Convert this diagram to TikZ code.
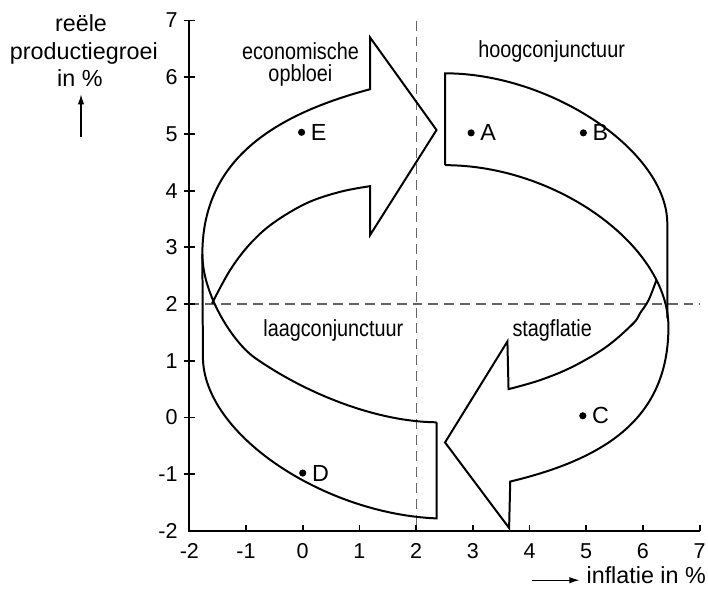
\documentclass[tikz,border=0pt]{standalone}
\usepackage{fontspec}
\setmainfont{Liberation Sans}
\newfontfamily\condfont[FakeStretch=0.85]{Liberation Sans}
\usetikzlibrary{arrows.meta}
\begin{document}
\begin{tikzpicture}[x=1cm,y=1cm,
  band/.style={line width=1pt, line join=miter},
  axisline/.style={line width=0.9pt},
  guide/.style={draw=black!60, dash pattern=on 5pt off 3pt, line width=0.6pt},
  ticklbl/.style={font=\fontsize{10.8}{12}\selectfont, inner sep=0pt},
  lbl/.style={font=\fontsize{11.7}{13.5}\selectfont, inner sep=0pt},
  condlbl/.style={font=\condfont\fontsize{11.7}{13.5}\selectfont, inner sep=0pt, anchor=base},
  ptdot/.style={circle, fill=black, inner sep=0pt, minimum size=3.6pt},
  axarrow/.style={-{Latex[length=5pt,width=3.2pt]}, line width=0.6pt}
]
\useasboundingbox (-5.339,-3.042) rectangle (7.148,7.363);

% guide lines
\draw[guide] (2,7) -- (2,-2);
\draw[guide] (-2,2) -- (7,2);

% axes
\draw[axisline] (-2,7) -- (-2,-2) -- (7,-2);
\foreach \y in {-1,...,7} \draw[axisline] (-2.1,\y) -- (-1.9,\y);
\foreach \x in {-1,...,7} \draw[axisline] (\x,-2) -- (\x,-1.9);
\foreach \y in {-2,...,7} \node[ticklbl, anchor=base east] (yl\y) at (-2.2,\y-0.13) {\y};
\foreach \x in {-2,...,7} \node[ticklbl, anchor=base] (xl\x) at (\x,-2.48) {\x};

% axis titles
\node[lbl, anchor=base] (yt1) at (-3.91,6.80) {reële};
\node[lbl, anchor=base] (yt2) at (-3.86,6.31) {productiegroei};
\node[lbl, anchor=base] (yt3) at (-3.93,5.83) {in \%};
\coordinate (ya0) at (-3.91,4.95);
\coordinate (ya1) at (-3.91,5.70);
\draw[axarrow] (ya0) -- (ya1);
\node[lbl, anchor=base west] (xt) at (5.0,-2.92) {inflatie in \%};
\coordinate (xa0) at (4.04,-2.87);
\coordinate (xa1) at (4.88,-2.87);
\draw[axarrow] (xa0) -- (xa1);

% key points of the ribbon
\coordinate (L) at (-1.77,2.88);     % leftmost point
\coordinate (R) at (6.45,1.60);      % rightmost point
\coordinate (ub) at (1.19,5.79);     % upper arrow, outer base
\coordinate (ut) at (1.19,6.70);     % upper arrow, top barb
\coordinate (utip) at (2.36,5.07);   % upper arrow tip
\coordinate (ul) at (1.19,3.22);     % upper arrow, lower barb
\coordinate (ui) at (1.19,4.08);     % upper arrow, inner base
\coordinate (X1) at (-1.60,2.01);    % where upper inner edge meets lower band
\coordinate (lt) at (2.36,-0.085);   % lower band end, top
\coordinate (lb) at (2.36,-1.78);    % lower band end, bottom
\coordinate (lv) at (-1.76,1.07);    % bottom of left vertical
\coordinate (ht) at (2.51,6.07);     % hoog band end, top
\coordinate (hb) at (2.51,4.45);     % hoog band end, bottom
\coordinate (rv) at (6.43,3.42);     % top of right vertical
\coordinate (sb) at (3.66,-1.13);    % stag arrow, outer base
\coordinate (sl) at (3.64,-1.95);    % stag arrow, lower barb
\coordinate (stip) at (2.51,-0.44);  % stag arrow tip
\coordinate (st) at (3.61,1.34);     % stag arrow, top barb
\coordinate (si) at (3.63,0.50);     % stag arrow, inner base
\coordinate (X2) at (6.24,2.43);     % where stag inner edge meets hoog band

% upper-left arrow (economische opbloei); its outer edge continues as top edge of lower band
\draw[band] (lt) .. controls (1.30,-0.075) and (0.06,0.42) .. (-0.84,1.05)
  .. controls (-1.24,1.33) and (-1.77,2.18) .. (L)
  .. controls (-1.77,4.48) and (-0.61,5.31) .. (ub)
  -- (ut) -- (utip) -- (ul) -- (ui)
  -- plot[smooth, tension=0.6] coordinates {(1.19,4.08) (0.66,3.98) (0.07,3.78) (-0.52,3.43) (-0.93,3.06) (-1.28,2.60) (-1.60,2.01)};

% lower band (laagconjunctuur)
\draw[band] (lt) -- (lb) .. controls (0.38,-1.70) and (-1.76,-0.30) .. (lv) -- (L);

% upper-right band (hoogconjunctuur)
\draw[band] (hb) -- (ht) .. controls (4.39,6.07) and (6.43,4.69) .. (rv) -- (6.43,1.75);

% inner edge of hoog band continuing as outer edge of stagflatie arrow
\draw[band] (hb) .. controls (4.48,4.45) and (6.45,3.025) .. (R)
  .. controls (6.45,0.0) and (5.36,-0.722) .. (sb)
  -- (sl) -- (stip) -- (st) -- (si)
  -- plot[smooth, tension=0.6] coordinates {(3.63,0.50) (4.19,0.66) (4.77,0.90) (5.36,1.25) (5.83,1.66) (5.95,1.84) (6.10,2.07) (6.24,2.43)};

% phase labels
\node[condlbl] (l1a) at (-0.04,6.32) {economische};
\node[condlbl] (l1b) at (-0.04,5.93) {opbloei};
\node[condlbl] (l2) at (4.39,6.35) {hoogconjunctuur};
\node[condlbl] (l3) at (0.54,1.43) {laagconjunctuur};
\node[condlbl] (l4) at (4.40,1.43) {stagflatie};

% points
\node[ptdot] (pA) at (2.97,5.02) {};
\node[ptdot] (pB) at (4.95,5.02) {};
\node[ptdot] (pC) at (4.94,0.03) {};
\node[ptdot] (pD) at (0.0,-0.98) {};
\node[ptdot] (pE) at (-0.02,5.03) {};
\node[lbl, anchor=west] (tA) at ([xshift=4.5pt]pA.center) {A};
\node[lbl, anchor=west] (tB) at ([xshift=4.5pt]pB.center) {B};
\node[lbl, anchor=west] (tC) at ([xshift=4.5pt]pC.center) {C};
\node[lbl, anchor=west] (tD) at ([xshift=4.5pt]pD.center) {D};
\node[lbl, anchor=west] (tE) at ([xshift=4.5pt]pE.center) {E};
\end{tikzpicture}
\end{document}
